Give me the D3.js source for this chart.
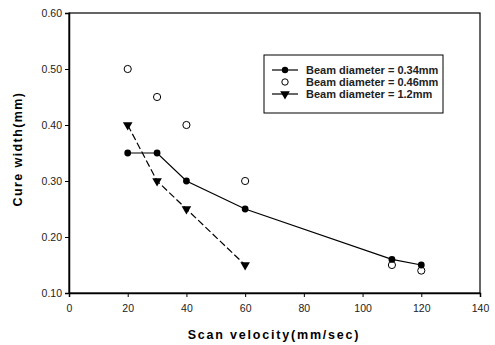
<!DOCTYPE html>
<html>
<head>
<meta charset="utf-8">
<script src="https://cdn.jsdelivr.net/npm/d3@7"></script>
<style>
  body { margin: 0; background: #fff; }
  text { font-family: Arial, "Liberation Sans", sans-serif; }
</style>
</head>
<body>
<svg class="chart"></svg>
<script>
const seriesNames = ['Beam diameter = 0.34mm', 'Beam diameter = 0.46mm', 'Beam diameter = 1.2mm'];
const velA = [20, 30, 40, 60, 110, 120];
const widthA = [0.35, 0.35, 0.30, 0.25, 0.16, 0.15];
const velB = [20, 30, 40, 60, 110, 120];
const widthB = [0.50, 0.45, 0.40, 0.30, 0.15, 0.14];
const velC = [20, 30, 40, 60];
const widthC = [0.40, 0.30, 0.25, 0.15];
const xTicks = [0, 20, 40, 60, 80, 100, 120, 140];
const yTicks = [0.10, 0.20, 0.30, 0.40, 0.50, 0.60];

const W = 495, H = 345;
const plotL = 69, plotR = 480, plotT = 13, plotB = 293;

const svg = d3.select('.chart').attr('width', W).attr('height', H);

const x = d3.scaleLinear().domain([0, 140]).range([plotL, plotR]);
const y = d3.scaleLinear().domain([0.10, 0.60]).range([plotB, plotT]);

// plot frame
svg.append('rect')
  .attr('x', plotL).attr('y', plotT)
  .attr('width', plotR - plotL).attr('height', plotB - plotT)
  .attr('fill', 'none').attr('stroke', '#000').attr('stroke-width', 1.2);

const xAxis = d3.axisBottom(x).tickValues(xTicks).tickSize(4).tickFormat(d3.format('d'));
const yAxis = d3.axisLeft(y).tickValues(yTicks).tickSize(4).tickFormat(d3.format('.2f'));

svg.append('g')
  .attr('transform', 'translate(0,' + plotB + ')')
  .call(xAxis)
  .call(g => g.select('.domain').attr('stroke-width', 1.5))
  .call(g => g.selectAll('text').attr('font-size', 10.5).attr('dy', '1.15em').attr('fill', '#222'));

svg.append('g')
  .attr('transform', 'translate(' + plotL + ',0)')
  .call(yAxis)
  .call(g => g.select('.domain').attr('stroke-width', 1.5))
  .call(g => g.selectAll('text').attr('font-size', 10.5).attr('fill', '#222'));

// axis titles
svg.append('text')
  .attr('x', 274).attr('y', 339)
  .attr('text-anchor', 'middle')
  .attr('font-size', 12.5).attr('font-weight', 'bold').attr('letter-spacing', 1.8)
  .text('Scan velocity(mm/sec)');

svg.append('text')
  .attr('transform', 'translate(22,149) rotate(-90)')
  .attr('text-anchor', 'middle')
  .attr('font-size', 12.5).attr('font-weight', 'bold').attr('letter-spacing', 1.4)
  .text('Cure width(mm)');

const line = d3.line().x(d => x(d[0])).y(d => y(d[1]));
const ptsA = velA.map((v, i) => [v, widthA[i]]);
const ptsB = velB.map((v, i) => [v, widthB[i]]);
const ptsC = velC.map((v, i) => [v, widthC[i]]);

svg.append('path').datum(ptsA).attr('d', line)
  .attr('fill', 'none').attr('stroke', '#000').attr('stroke-width', 1.2);
svg.append('path').datum(ptsC).attr('d', line)
  .attr('fill', 'none').attr('stroke', '#000').attr('stroke-width', 1.2)
  .attr('stroke-dasharray', '7,3');

const tri = d3.symbol().type(d3.symbolTriangle).size(40);

svg.selectAll('circle.b').data(ptsB).enter().append('circle')
  .attr('cx', d => x(d[0])).attr('cy', d => y(d[1])).attr('r', 3.6)
  .attr('fill', '#fff').attr('stroke', '#000').attr('stroke-width', 1);
svg.selectAll('circle.a').data(ptsA).enter().append('circle')
  .attr('cx', d => x(d[0])).attr('cy', d => y(d[1])).attr('r', 3.4)
  .attr('fill', '#000');
svg.selectAll('path.c').data(ptsC).enter().append('path')
  .attr('d', tri)
  .attr('transform', d => 'translate(' + x(d[0]) + ',' + y(d[1]) + ') rotate(180)')
  .attr('fill', '#000');

// legend
const lg = svg.append('g').attr('transform', 'translate(264,55)');
lg.append('rect').attr('width', 179).attr('height', 58)
  .attr('fill', '#fff').attr('stroke', '#000').attr('stroke-width', 1);
const rowY = [15, 27, 39];
seriesNames.forEach((name, i) => {
  const r = lg.append('g').attr('transform', 'translate(0,' + rowY[i] + ')');
  if (i !== 1) {
    r.append('line').attr('x1', 8).attr('x2', 34).attr('y1', 0).attr('y2', 0)
      .attr('stroke', '#000').attr('stroke-width', 1.2);
  }
  if (i === 0) r.append('circle').attr('cx', 21).attr('r', 3.2).attr('fill', '#000');
  if (i === 1) r.append('circle').attr('cx', 21).attr('r', 3.2).attr('fill', '#fff').attr('stroke', '#000');
  if (i === 2) r.append('path').attr('d', tri).attr('transform', 'translate(21,0) rotate(180)').attr('fill', '#000');
  r.append('text').attr('x', 42).attr('y', 0).attr('dy', '0.35em')
    .attr('font-size', 11).attr('font-weight', 'bold').attr('fill', '#222').text(name);
});
</script>
</body>
</html>
